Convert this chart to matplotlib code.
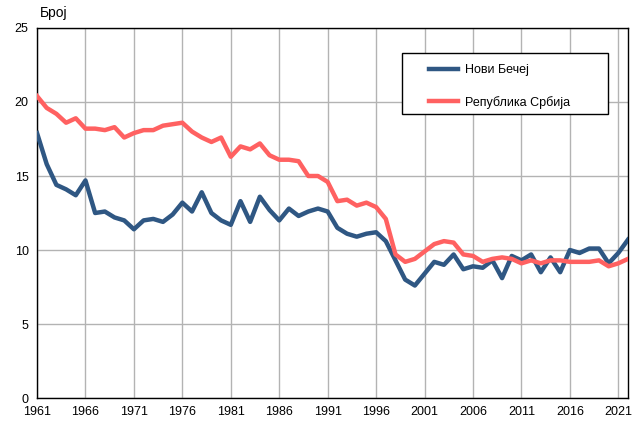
import matplotlib
matplotlib.use("Agg")
import matplotlib.pyplot as plt
from matplotlib.patches import Rectangle

plt.rcParams['font.family'] = ['Liberation Sans', 'DejaVu Sans']

years = list(range(1961, 2023))
novi_becej = [17.9, 15.8, 14.4, 14.1, 13.7, 14.7, 12.5, 12.6, 12.2, 12.0,
              11.4, 12.0, 12.1, 11.9, 12.4, 13.2, 12.6, 13.9, 12.5, 12.0,
              11.7, 13.3, 11.9, 13.6, 12.7, 12.0, 12.8, 12.3, 12.6, 12.8,
              12.6, 11.5, 11.1, 10.9, 11.1, 11.2, 10.6, 9.3, 8.0, 7.6,
              8.4, 9.2, 9.0, 9.7, 8.7, 8.9, 8.8, 9.3, 8.1, 9.6,
              9.3, 9.7, 8.5, 9.5, 8.5, 10.0, 9.8, 10.1, 10.1, 9.1,
              9.8, 10.7]
srbija = [20.4, 19.6, 19.2, 18.6, 18.9, 18.2, 18.2, 18.1, 18.3, 17.6,
          17.9, 18.1, 18.1, 18.4, 18.5, 18.6, 18.0, 17.6, 17.3, 17.6,
          16.3, 17.0, 16.8, 17.2, 16.4, 16.1, 16.1, 16.0, 15.0, 15.0,
          14.6, 13.3, 13.4, 13.0, 13.2, 12.9, 12.1, 9.7, 9.2, 9.4,
          9.9, 10.4, 10.6, 10.5, 9.7, 9.6, 9.2, 9.4, 9.5, 9.4,
          9.1, 9.3, 9.1, 9.3, 9.3, 9.2, 9.2, 9.2, 9.3, 8.9,
          9.1, 9.4]
xticks = list(range(1961, 2022, 5))
yticks = [0, 5, 10, 15, 20, 25]
series_names = ['Нови Бечеј', 'Република Србија']

fig = plt.figure(figsize=(6.35, 4.21), dpi=100)
ax = fig.add_axes([0.0583, 0.0546, 0.9307, 0.8789])

ax.plot(years, novi_becej, color='#2f5783', lw=3.2, label=series_names[0],
        solid_joinstyle='round', zorder=3)
ax.plot(years, srbija, color='#ff6161', lw=3.2, label=series_names[1],
        solid_joinstyle='round', zorder=3)

ax.set_xlim(1961, 2022)
ax.set_ylim(0, 25)
ax.set_xticks(xticks)
ax.set_yticks(yticks)
ax.tick_params(length=0, labelsize=9, pad=6)
ax.grid(True, color='#b3b3b3', lw=1)
ax.set_axisbelow(True)
for s in ax.spines.values():
    s.set_color('black')
    s.set_linewidth(1)

# legend frame
ax.add_patch(Rectangle((0.6176, 0.7676), 0.3486, 0.1648, transform=ax.transAxes,
                       facecolor='white', edgecolor='black', lw=1, zorder=4))
leg = ax.legend(loc='upper left', bbox_to_anchor=(0.663, 0.903), fontsize=9,
                frameon=False, handlelength=2.3, borderpad=0,
                labelspacing=1.6, borderaxespad=0, handletextpad=0.6)
leg.set_zorder(5)

fig.text(0.063, 0.97, 'Број', fontsize=10, va='center', ha='left')

fig.savefig('out.png', dpi=100)
